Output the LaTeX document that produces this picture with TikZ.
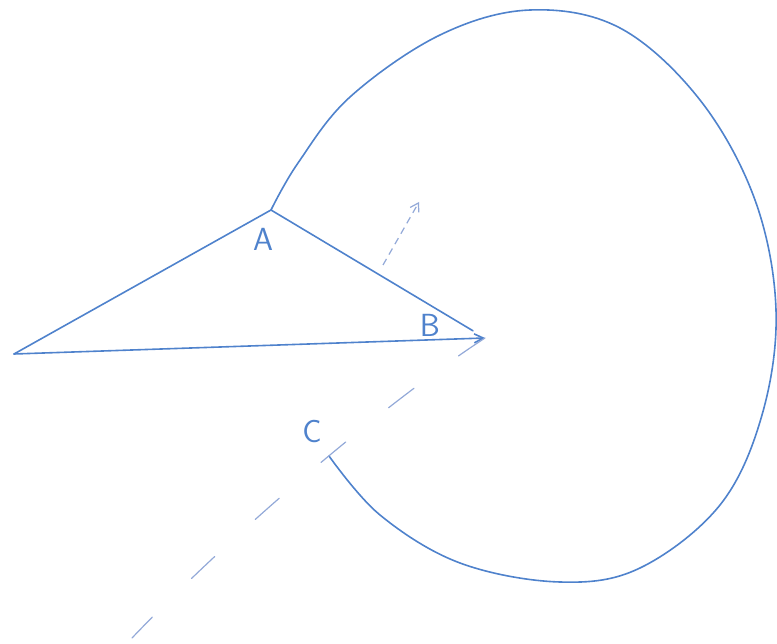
\documentclass[tikz,border=0pt]{standalone}
\usepackage{xcolor}
\usepackage{tikz}
\usetikzlibrary{arrows.meta}
\definecolor{penblue}{HTML}{4F82CC}
\definecolor{faintblue}{HTML}{93A9D8}

\begin{document}
\begin{tikzpicture}[x=1pt, y=-1pt,
          pen/.style={draw=penblue, line width=1.6pt, line cap=round, line join=round},
          dashpen/.style={draw=faintblue, line width=1.2pt, line cap=round,
                          dash pattern=on 32pt off 55pt},
          lbl/.style={text=penblue, font=\fontsize{32}{32}\selectfont\sffamily, inner sep=0pt}
        ]
        \useasboundingbox (0,0) rectangle (777,644);

        \coordinate (L) at (14,354);
        \coordinate (A) at (271,210);
        \coordinate (B) at (485,338);
        \coordinate (C) at (329,456);
        \coordinate (E) at (132,638);
        \coordinate (P) at (383,265);
        \coordinate (Q) at (419,202);

        \node[lbl] (la) at (263,239) {A};
        \node[lbl] (lb) at (430,325) {B};
        \node[lbl] (lc) at (312,432) {C};

        % triangle
        \draw[pen] (L) -- (A);
        \draw[pen, shorten >=14pt] (A) -- (B);
        \draw[pen, -{Straight Barb[length=9pt, width=9pt]}] (L) -- (B);

        % loop from A round to C
        \draw[pen] plot[smooth, tension=0.6] coordinates {(A) (298,163) (350,97)
            (440,35) (530,10) (620,28) (700,100) (755,200) (776,310)
            (762,415) (720,505) (640,568) (560,582) (460,563) (380,515) (C)};

        % dashed rays
        \draw[dashpen] (B) .. controls (390,400) and (240,525) .. (E);
        \draw[draw=faintblue, line width=1.2pt, dash pattern=on 7pt off 5pt,
              -{Straight Barb[length=8pt, width=10pt]}] (P) -- (Q);
      \end{tikzpicture}
\end{document}
